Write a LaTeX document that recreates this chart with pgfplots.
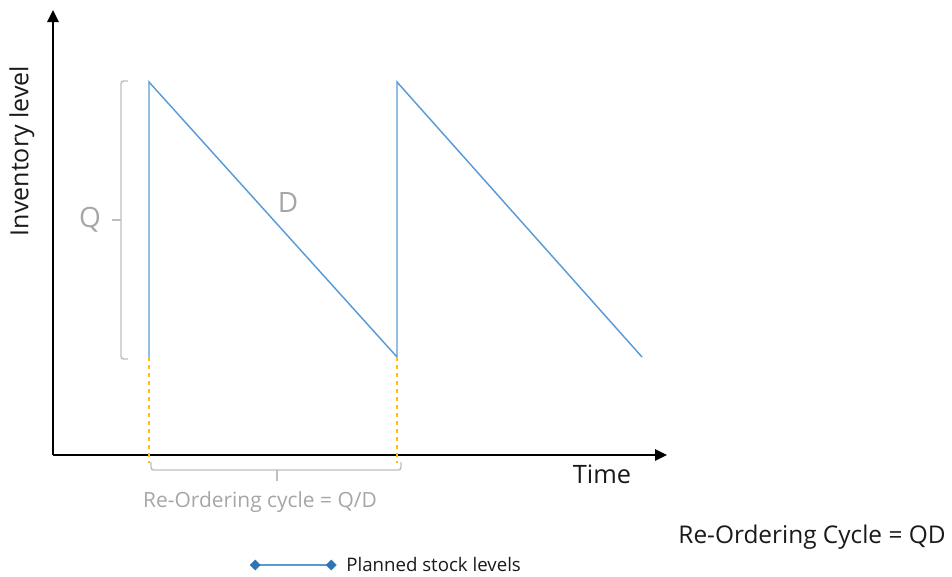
\documentclass[border=0pt]{standalone}
\usepackage{fontspec}
\setmainfont{Open Sans}
\usepackage{pgfplots}
\pgfplotsset{compat=1.18}
\usetikzlibrary{arrows.meta}
\definecolor{lineblue}{HTML}{5B9BD5}
\definecolor{markblue}{HTML}{2E75B6}
\definecolor{dashorange}{HTML}{FFC000}
\definecolor{brgray}{HTML}{BFBFBF}
\definecolor{txtgray}{HTML}{A6A6A6}
\definecolor{txtdark}{HTML}{1A1A1A}
\newcommand{\fs}[1]{\fontsize{#1}{1.2\dimexpr#1\relax}\selectfont}
\begin{document}
\begin{tikzpicture}
\begin{axis}[
  x=0.75pt, y=0.75pt,
  xmin=53, xmax=667, ymin=121, ymax=566,
  axis lines=left,
  axis line style={line width=1.4pt, black, -{Triangle[length=9pt,width=8.5pt]}},
  xtick=\empty, ytick=\empty,
  clip=false,
  legend style={at={(axis cs:250,11)}, anchor=west, draw=none, fill=none,
    font=\fs{14pt}\color{txtdark}, inner sep=0pt, row sep=0pt},
  legend cell align=left,
]
% planned stock levels
\addlegendimage{legend image code/.code={
    \draw[lineblue, line width=1.1pt, mark=square*, mark size=2.7pt,
      mark options={fill=markblue, draw=markblue, line width=0.3pt, rotate=45}]
      plot coordinates {(0pt,0pt) (57pt,0pt)};
    \path (66pt,0pt);
  }}
\addlegendentry{Planned stock levels}
\addplot[lineblue, line width=1.1pt, no marks, forget plot]
  coordinates {(149,219) (149,494) (397,219) (397,494) (642,219)};
% re-order markers
\addplot[dashorange, dashed, line width=1pt, no marks, forget plot]
  coordinates {(149,219) (149,113)};
\addplot[dashorange, dashed, line width=1pt, no marks, forget plot]
  coordinates {(397,219) (397,113)};
% Q bracket
\draw[brgray, line width=1.1pt, rounded corners=2pt]
  (axis cs:128,495) -- (axis cs:121,495) -- (axis cs:121,217) -- (axis cs:128,217);
\draw[brgray, line width=1.1pt] (axis cs:121,356) -- (axis cs:112,356);
\node[txtgray, font=\fs{21pt}] at (axis cs:90,356) {Q};
\node[txtgray, font=\fs{21pt}] at (axis cs:288,373) {D};
% cycle bracket
\draw[brgray, line width=1.1pt, rounded corners=2pt]
  (axis cs:151,114) -- (axis cs:151,106) -- (axis cs:401,106) -- (axis cs:401,114);
\draw[brgray, line width=1.1pt] (axis cs:277,106) -- (axis cs:277,95);
\node[txtgray, font=\fs{15.7pt}] at (axis cs:260,74) {Re-Ordering cycle = Q/D};
% axis labels
\node[txtdark, font=\fs{19pt}] at (axis cs:602,102) {Time};
\node[txtdark, font=\fs{18.75pt}, rotate=90] at (axis cs:22,425) {Inventory level};
\node[txtdark, font=\fs{18.3pt}] at (axis cs:812,39) {Re-Ordering Cycle = QD};
% page frame
\path (axis cs:0,0) rectangle (axis cs:952,576);
\end{axis}
\end{tikzpicture}
\end{document}
